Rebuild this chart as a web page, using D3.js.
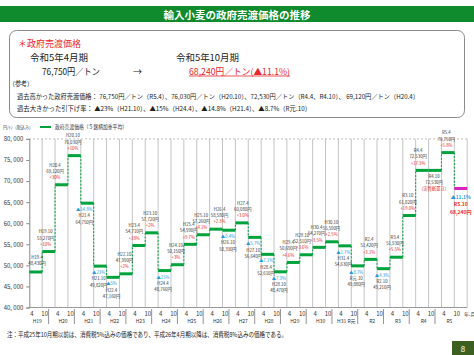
<!DOCTYPE html>
<html><head><meta charset="utf-8">
<script src="https://cdn.jsdelivr.net/npm/d3@7"></script>
<style>
html,body{margin:0;padding:0;background:#fff;}
svg{display:block;font-family:"Noto Sans CJK JP","Noto Sans",sans-serif;}
</style></head>
<body><svg id="c" width="474" height="355"></svg>
<script>
// ---- data ----
const periods = ["H19.4","H19.10","H20.4","H20.10","H21.4","H21.10","H22.4","H22.10","H23.4","H23.10",
  "H24.4","H24.10","H25.4","H25.10","H26.4","H26.10","H27.4","H27.10","H28.4","H28.10",
  "H29.4","H29.10","H30.4","H30.10","H31.4","R元.10","R2.4","R2.10","R3.4","R3.10",
  "R4.4","R4.10","R5.4","R5.10"];
const prices = [48430,53270,69120,76030,64750,49820,47160,47990,54710,57720,
  48760,50150,54990,57260,58580,58330,60080,56640,52610,48470,
  50690,52510,54270,55590,54630,49880,51420,49210,51930,61820,
  72530,72530,76750,68240];
const changes = ["","+10%","+30%","+10%","▲14.8%","▲23%","▲5%","+2%","+18%","+2%",
  "▲15%","+3%","+9.7%","+4.1%","+2.3%","▲0.4%","+3.0%","▲5.7%","▲7.1%","▲7.9%",
  "+4.6%","+3.6%","+3.5%","+2.5%","▲1.7%","▲8.7%","+3.1%","▲4.3%","+5.5%","+19.0%",
  "+17.3%","(実質据置き)","+5.8%","▲11.1%"];
const monthLabels = periods.map(p => p.split(".")[1]);
const yearLabels = ["H19","H20","H21","H22","H23","H24","H25","H26","H27","H28","H29","H30","H31 R元","R2","R3","R4","R5"];
const yTicks = [40000,45000,50000,55000,60000,65000,70000,75000,80000];

// layout only: horizontal nudges (px) of some value labels, as placed in the original
const labelNudge = {"H19.4":2.8,"H19.10":-1.5,"H20.4":-5,"H21.4":-1.5,"H23.4":-3,"H25.4":0,"H25.10":-0.5,
  "H26.4":5,"H26.10":0.5,"H27.4":2.5,"H29.4":-3.5,"H29.10":-2.5,"H30.4":-1,"H30.10":1,"R4.4":-2.5,"R4.10":0.5,"R5.10":1.5};

const svg = d3.select("#c");
const GREEN = "#00a23c", RED = "#e8262b", BLUE = "#1f9be0", GRID = "#c4c4c4", TXT = "#333";

// ---- header ----
svg.append("rect").attr("x",0).attr("y",6).attr("width",474).attr("height",16).attr("fill","#0f8a2c");
svg.append("text").attr("x",237).attr("y",14.5).attr("text-anchor","middle").attr("dominant-baseline","central")
  .attr("fill","#fff").attr("font-size",10.5).attr("font-weight","bold").text("輸入小麦の政府売渡価格の推移");

svg.append("rect").attr("x",9.5).attr("y",30.5).attr("width",455).attr("height",87).attr("rx",7)
  .attr("fill","#fff").attr("stroke","#8a8a8a").attr("stroke-width",1);

function t(x,y,s,size,fill,opts={}){
  const e = svg.append("text").attr("x",x).attr("y",y).attr("dominant-baseline","central")
    .attr("font-size",size).attr("fill",fill).text(s);
  if(opts.anchor) e.attr("text-anchor",opts.anchor);
  if(opts.len) e.attr("textLength",opts.len).attr("lengthAdjust","spacingAndGlyphs");
  if(opts.bold) e.attr("font-weight","bold");
  return e;
}
t(18,43,"＊政府売渡価格",9,RED,{len:63});
t(30,57,"令和5年4月期",9,"#222",{len:58});
t(176,57,"令和5年10月期",9,"#222",{len:63});
t(42,71,"76,750円／トン",9,"#222",{len:58});
t(133,71,"→",9,"#222");
t(189,71,"68,240円／トン(▲11.1%)",9,RED,{len:101});
svg.append("line").attr("x1",189).attr("x2",290).attr("y1",76).attr("y2",76).attr("stroke",RED).attr("stroke-width",0.8);
t(9,83,"（参考）",6.5,"#222",{len:24});
t(17,96,"過去高かった政府売渡価格： 76,750円／トン（R5.4）、76,030円／トン（H20.10）、72,530円／トン（R4.4、R4.10）、 69,120円／トン（H20.4）",6.5,"#222",{len:402});
t(17,108,"過去大きかった引下げ率： ▲23%（H21.10）、▲15%（H24.4）、▲14.8%（H21.4）、▲8.7%（R元.10）",6.5,"#222",{len:294});

// ---- legend ----
t(3,127,"円/ﾄﾝ（税込み）",4.5,"#444",{len:30});
svg.append("line").attr("x1",40).attr("x2",51).attr("y1",127).attr("y2",127).attr("stroke",GREEN).attr("stroke-width",2);
t(55,127,"政府売渡価格（５銘柄加重平均）",5.5,"#333",{len:72});

// ---- scales ----
const x = d3.scaleBand().domain(periods).range([29.3,467.2]).padding(0);
const bw = x.bandwidth();
const y = d3.scaleLinear().domain([40000,80000]).range([307.5,138.9]);

// grid
const bounds = periods.map(p => x(p)).concat([x(periods[periods.length-1]) + bw]);
svg.append("g").selectAll("line").data(bounds.slice(1)).join("line")
  .attr("x1",d=>d).attr("x2",d=>d).attr("y1",y(80000)).attr("y2",y(40000))
  .attr("stroke",GRID).attr("stroke-width",1);
svg.append("line").attr("x1",x.range()[0]).attr("x2",x.range()[1]).attr("y1",y(80000)).attr("y2",y(80000))
  .attr("stroke","#999").attr("stroke-width",0.8).attr("stroke-dasharray","1.5,2.5");
svg.append("line").attr("x1",x.range()[0]).attr("x2",x.range()[1]).attr("y1",y(40000)).attr("y2",y(40000))
  .attr("stroke","#999").attr("stroke-width",1);

// y axis
const yAxis = svg.append("g").attr("transform",`translate(${x.range()[0]},0)`)
  .call(d3.axisLeft(y).tickValues(yTicks).tickSize(3).tickPadding(3)
    .tickFormat(d => d3.format(",")(d).replace(",",", ")));
yAxis.select(".domain").attr("stroke","#888");
yAxis.selectAll(".tick line").attr("stroke","#888");
yAxis.selectAll("text").attr("font-size",6).attr("fill","#333").attr("font-family","Noto Sans CJK JP");

// x labels
svg.append("g").selectAll("text").data(periods).join("text")
  .attr("x",p=>x(p)+2.5).attr("y",313.5).attr("text-anchor","middle").attr("dominant-baseline","central")
  .attr("font-size",6).attr("fill","#333").text((p,i)=>monthLabels[i]);
t(464,313.5,"年.月",5,"#333");
svg.append("g").selectAll("text").data(yearLabels).join("text")
  .attr("x",(d,i)=>x(periods[2*i])+bw/2+1.5).attr("y",320.5).attr("text-anchor","middle").attr("dominant-baseline","central")
  .attr("font-size",5).attr("fill","#333").text(d=>d);
svg.append("g").selectAll("line").data(yearLabels.slice(0,-1)).join("line")
  .attr("x1",(d,i)=>x(periods[2*i+1])+bw/2).attr("x2",(d,i)=>x(periods[2*i+1])+bw/2)
  .attr("y1",309).attr("y2",324).attr("stroke","#777").attr("stroke-width",0.8);

// ---- step connectors ----
svg.append("g").selectAll("line").data(periods.slice(1)).join("line")
  .attr("x1",p=>x(p)).attr("x2",p=>x(p))
  .attr("y1",(p,i)=>y(prices[i])).attr("y2",(p,i)=>y(prices[i+1]))
  .attr("stroke",GREEN).attr("stroke-width",1).attr("stroke-dasharray","2,1.5");
// step segments
svg.append("g").selectAll("line").data(periods).join("line")
  .attr("x1",p=>x(p)).attr("x2",p=>x(p)+bw)
  .attr("y1",(p,i)=>y(prices[i])).attr("y2",(p,i)=>y(prices[i]))
  .attr("stroke",(p,i)=> i===periods.length-1 ? "#e01fc0" : GREEN).attr("stroke-width",3);

// ---- value labels ----
const LF = 4.3;
function fmtPrice(v){ return d3.format(",")(v)+"円"; }
const lab = svg.append("g");
periods.forEach((p,i)=>{
  const cx = x(p)+bw/2-1.5+(labelNudge[p]||0), sy = y(prices[i]), c = changes[i];
  let lines, y0, step = 6.2, bold = false;
  const pr = fmtPrice(prices[i]);
  if(i===periods.length-1){
    lines = [[c,BLUE,4.9],[p,RED,5],[pr,RED,5]]; y0 = sy+8; step = 7.4; bold = true;
  } else if(c===""){
    lines = [[p,TXT,LF],[pr,TXT,LF]]; y0 = sy-15;
  } else if(c[0]==="+"){
    lines = [[p,TXT,LF],[pr,TXT,LF],[c,RED,LF]]; y0 = sy-20.2;
  } else if(c[0]==="▲"){
    lines = [[c,BLUE,LF],[p,TXT,LF],[pr,TXT,LF]]; y0 = sy+6;
  } else {
    lines = [[p,TXT,LF],[pr,TXT,LF],[c,RED,LF]]; y0 = sy+5.8; step = 5.7;
  }
  lines.forEach((l,k)=>{
    const e = lab.append("text").attr("x",cx).attr("y",y0+k*step).attr("text-anchor","middle")
      .attr("dominant-baseline","central").attr("fill",l[1]).attr("font-size",l[2]).text(l[0]);
    if(bold) e.attr("font-weight","bold");
  });
});

// ---- footnote & page ----
t(7,334,"注：平成25年10月期以前は、消費税5%込みの価格であり、平成26年4月期以降は、消費税8%込みの価格である。",6.5,"#222",{len:280});
svg.append("rect").attr("x",452).attr("y",341).attr("width",22).attr("height",14).attr("fill","#3d5f1f");
t(463,348,"8",8,"#fff",{anchor:"middle"});
</script></body></html>
